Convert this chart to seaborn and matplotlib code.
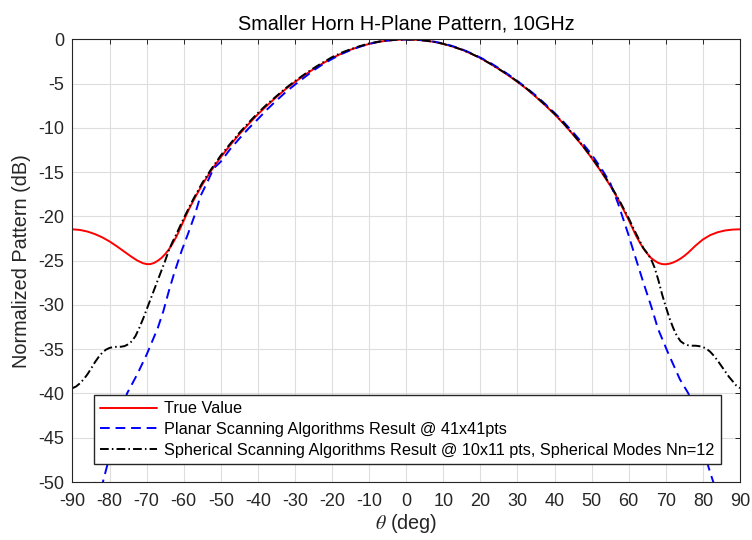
import matplotlib
matplotlib.use("Agg")
import matplotlib.pyplot as plt
import seaborn as sns

# True value (red)
theta_true = [-90, -88, -86, -84, -82, -80, -78, -76, -74, -72.5, -71, -70, -69, -68, -67,
              -66, -65, -64, -63, -62, -61, -60, -58.5, -57, -55, -52.5, -50, -47.5, -45,
              -42.5, -40, -37.5, -35, -32.5, -30, -27.5, -25, -22.5, -20, -17.5, -15, -12.5,
              -10, -7.5, -5, -2.5, 0, 2.5, 5, 7.5, 10, 12.5, 15, 17.5, 20, 22.5, 25, 27.5,
              30, 32.5, 35, 37.5, 40, 42.5, 45, 47.5, 50, 52.5, 55, 57, 58.5, 60, 61, 62,
              63, 64, 65, 66, 67, 68, 69, 70, 71, 72, 73, 74, 75, 76, 77, 78, 80, 82, 84,
              86, 88, 90]
db_true = [-21.45, -21.52, -21.7, -21.98, -22.35, -22.82, -23.38, -23.98, -24.58, -24.98, -25.28, -25.38,
           -25.38, -25.25, -25.0, -24.68, -24.25, -23.72, -23.05, -22.3, -21.4, -20.45, -19.1, -17.9,
           -16.4, -14.75, -13.3, -11.95, -10.7, -9.55, -8.45, -7.45, -6.5, -5.6, -4.8, -4.05, -3.35,
           -2.7, -2.1, -1.6, -1.15, -0.8, -0.5, -0.27, -0.12, -0.03, 0.0, -0.03, -0.12, -0.27, -0.5,
           -0.8, -1.15, -1.6, -2.1, -2.7, -3.35, -4.05, -4.8, -5.6, -6.5, -7.45, -8.45, -9.55, -10.75,
           -12.0, -13.4, -14.9, -16.5, -17.95, -19.15, -20.4, -21.3, -22.2, -22.95, -23.65, -24.2,
           -24.68, -25.0, -25.25, -25.38, -25.4, -25.33, -25.2, -25.0, -24.75, -24.45, -24.1, -23.7,
           -23.3, -22.6, -22.1, -21.78, -21.58, -21.48, -21.45]

# Planar scanning, 41x41 pts (blue dashed)
theta_planar = [-90, -86, -84.2, -83, -81.8, -81, -79, -77, -75.3, -72.5, -70, -67,
                -65.5, -64, -62.5, -60.5, -58.8, -57, -55.5, -53.5, -52, -50, -47.5, -45,
                -42.5, -40, -37.5, -35, -32.5, -30, -27.5, -25, -22.5, -20, -17.5, -15,
                -12.5, -10, -7.5, -5, -2.5, 0, 2.5, 5, 7.5, 10, 12.5, 15, 17.5, 20, 22.5,
                25, 27.5, 30, 32.5, 35, 37.5, 40, 42.5, 45, 47.5, 50, 52.5, 55, 57.1,
                59.8, 61.2, 63.9, 66.1, 67.9, 70.6, 73.8, 76.1, 78.5, 81.5, 82.8, 83.9,
                85, 86, 88, 90]
db_planar = [-60, -55, -49.9, -51.2, -50.0, -48.7, -45.6, -42.6, -40.0, -37.8, -35.6, -32.6,
             -30.7, -28.4, -26.3, -23.8, -21.9, -19.8, -17.7, -16.0, -14.6, -13.8, -12.4, -11.2,
             -10.05, -9.0, -7.9, -6.9, -5.95, -5.1, -4.3, -3.5, -2.8, -2.2, -1.65, -1.2,
             -0.82, -0.5, -0.27, -0.12, -0.03, 0.0, -0.03, -0.1, -0.25, -0.45, -0.75, -1.1, -1.55, -2.05, -2.6,
             -3.25, -3.95, -4.7, -5.5, -6.35, -7.3, -8.3, -9.35, -10.5, -11.7, -13.0, -14.5, -16.2, -18.5,
             -21.9, -23.8, -27.4, -30.2, -32.7, -35.4, -38.4, -40.0, -43.6, -48.3, -50.0, -51.2,
             -49.9, -51.5, -55, -58]

# Spherical scanning, 10x11 pts, Nn=12 (black dash-dot)
theta_sph = [-90, -89, -88, -87, -86, -85, -84, -83, -82, -81, -80, -79, -78, -77, -76, -75,
             -74, -73, -72, -71, -70, -69, -68, -67, -66, -65, -64, -63, -62, -61, -60,
             -57.5, -55, -52.5, -50, -47.5, -45, -42.5, -40, -37.5, -35, -32.5, -30, -27.5,
             -25, -22.5, -20, -17.5, -15, -12.5, -10, -7.5, -5, -2.5, 0, 2.5, 5, 7.5, 10,
             12.5, 15, 17.5, 20, 22.5, 25, 27.5, 30, 32.5, 35, 37.5, 40, 42.5, 45, 47.5,
             50, 52.5, 55, 57.5, 60, 61, 62, 63, 64, 65, 66, 67, 68, 69, 70, 71, 72, 73,
             74, 75, 76, 77, 78, 79, 80, 81, 82, 83, 84, 85, 86, 87, 88, 89, 90]
db_sph = [-39.4, -39.2, -38.85, -38.4, -37.85, -37.2, -36.5, -35.9, -35.4, -35.05, -34.85, -34.75,
          -34.72, -34.72, -34.65, -34.45, -34.1, -33.5, -32.6, -31.6, -30.5, -29.4, -28.3, -27.2,
          -26.1, -25.0, -23.8, -22.85, -22.0, -21.1, -20.2, -18.1, -16.2, -14.6, -13.1, -11.8,
          -10.55, -9.4, -8.3, -7.3, -6.4, -5.5, -4.7, -3.95, -3.25, -2.6, -2.0, -1.5, -1.1,
          -0.75, -0.45, -0.25, -0.1, -0.02, 0.0, -0.03, -0.12, -0.27, -0.5, -0.8, -1.15, -1.6,
          -2.1, -2.7, -3.35, -4.0, -4.75, -5.55, -6.45, -7.4, -8.4, -9.5, -10.7, -11.95, -13.3,
          -14.8, -16.4, -18.2, -20.2, -21.1, -21.95, -22.8, -23.6, -24.15, -24.8, -25.8, -27.2,
          -28.8, -30.2, -31.5, -32.6, -33.5, -34.1, -34.4, -34.55, -34.6, -34.6, -34.65, -34.75,
          -34.95, -35.3, -35.75, -36.3, -36.9, -37.5, -38.1, -38.6, -39.1, -39.4]

labels = ["True Value",
          "Planar Scanning Algorithms Result @ 41x41pts",
          "Spherical Scanning Algorithms Result @ 10x11 pts, Spherical Modes Nn=12"]

sns.set_theme(style="whitegrid")
plt.rcParams['font.family'] = ['Liberation Sans', 'DejaVu Sans']
plt.rcParams['mathtext.fontset'] = 'stix'
plt.rcParams['axes.unicode_minus'] = False
dark = '#262626'

fig = plt.figure(figsize=(7.52, 5.4), dpi=100)
ax = fig.add_axes([0.0964, 0.1074, 0.8876, 0.8195])

sns.lineplot(x=theta_true, y=db_true, color='red', lw=1.4, ax=ax,
             label=labels[0], errorbar=None, sort=False)
sns.lineplot(x=theta_planar, y=db_planar, color='blue', lw=1.4, ax=ax,
             linestyle=(0, (5, 3)), label=labels[1], errorbar=None, sort=False)
sns.lineplot(x=theta_sph, y=db_sph, color='black', lw=1.4, ax=ax,
             linestyle=(0, (4.5, 1.6, 0.8, 1.6)), label=labels[2], errorbar=None, sort=False)

ax.set_xlim(-90, 90)
ax.set_ylim(-50, 0)
ax.set_xticks(range(-90, 91, 10))
ax.set_yticks(range(-50, 1, 5))
ax.grid(True, color='#dedede', lw=0.8)
ax.set_axisbelow(True)
for sp in ax.spines.values():
    sp.set_visible(True)
    sp.set_color(dark)
    sp.set_linewidth(0.8)
ax.tick_params(direction='in', length=3.6, width=0.7, top=True, right=True,
               labelsize=13, colors=dark, labelcolor=dark)
ax.tick_params(axis='x', pad=8)
ax.tick_params(axis='y', pad=6)

ax.set_title("Smaller Horn H-Plane Pattern, 10GHz", fontsize=14.3, color='black', pad=7)
ax.set_xlabel(r"$\theta$ (deg)", fontsize=14.3, color=dark, labelpad=1)
ax.set_ylabel("Normalized Pattern (dB)", fontsize=14.3, color=dark, labelpad=5)

leg = ax.legend(loc='lower left', bbox_to_anchor=(0.032, 0.040), frameon=True,
                fancybox=False, edgecolor=dark, framealpha=1, fontsize=11.7,
                handlelength=3.5, handletextpad=0.4, borderpad=0.4,
                labelspacing=0.35, borderaxespad=0)
leg.get_frame().set_linewidth(1.0)
for t in leg.get_texts():
    t.set_color('black')

fig.savefig("out.png", dpi=100)
